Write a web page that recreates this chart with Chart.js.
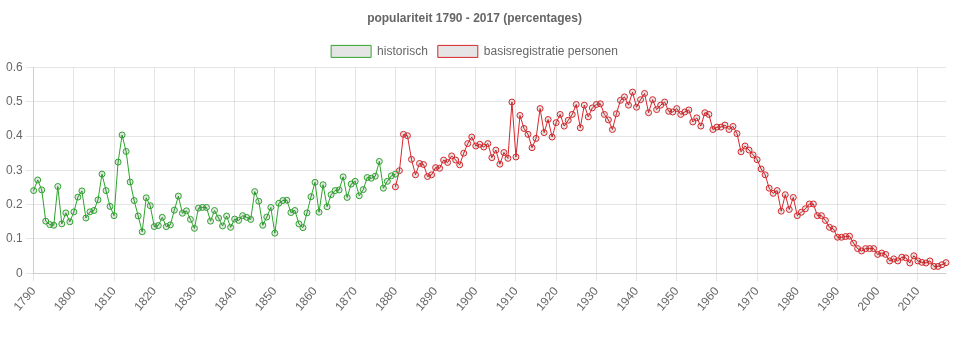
<!DOCTYPE html>
<html>
<head>
<meta charset="utf-8">
<script src="https://cdn.jsdelivr.net/npm/chart.js@4/dist/chart.umd.min.js"></script>
<style>
  body { margin: 0; background: #fff; }
  #wrap { width: 958px; height: 350px; }
</style>
</head>
<body>
<div id="wrap"><canvas id="popChart" width="958" height="350"></canvas></div>
<script>
// ===== DATA =====
const firstYear = 1790;
const lastYear = 2017;

// historisch, 1790 - 1880
const historisch = [
  0.241, 0.272, 0.243, 0.152, 0.142, 0.140, 0.253, 0.144, 0.176, 0.150,
  0.179, 0.222, 0.240, 0.161, 0.179, 0.183, 0.214, 0.289, 0.241, 0.195,
  0.168, 0.324, 0.403, 0.355, 0.266, 0.212, 0.167, 0.121, 0.220, 0.197,
  0.136, 0.139, 0.163, 0.136, 0.141, 0.184, 0.225, 0.175, 0.182, 0.157,
  0.131, 0.190, 0.192, 0.192, 0.152, 0.183, 0.161, 0.138, 0.167, 0.134,
  0.158, 0.154, 0.168, 0.163, 0.157, 0.238, 0.210, 0.140, 0.164, 0.192,
  0.117, 0.204, 0.212, 0.213, 0.177, 0.183, 0.144, 0.133, 0.176, 0.223,
  0.265, 0.178, 0.258, 0.194, 0.229, 0.241, 0.243, 0.281, 0.221, 0.260,
  0.268, 0.226, 0.244, 0.279, 0.277, 0.283, 0.326, 0.248, 0.268, 0.284,
  0.289
];
const historischStart = 1790;

// basisregistratie personen, 1880 - 2017
const brp = [
  0.252, 0.299, 0.405, 0.401, 0.332, 0.287, 0.320, 0.317, 0.282, 0.287,
  0.308, 0.306, 0.330, 0.323, 0.342, 0.330, 0.316, 0.350, 0.378, 0.397,
  0.371, 0.376, 0.368, 0.378, 0.337, 0.359, 0.318, 0.352, 0.335, 0.499,
  0.339, 0.460, 0.422, 0.405, 0.366, 0.393, 0.480, 0.410, 0.448, 0.397,
  0.439, 0.463, 0.429, 0.446, 0.463, 0.492, 0.424, 0.490, 0.456, 0.482,
  0.492, 0.494, 0.463, 0.447, 0.419, 0.465, 0.504, 0.514, 0.490, 0.528,
  0.484, 0.506, 0.524, 0.468, 0.506, 0.477, 0.490, 0.499, 0.472, 0.470,
  0.480, 0.463, 0.470, 0.476, 0.441, 0.453, 0.429, 0.468, 0.463, 0.419,
  0.426, 0.426, 0.432, 0.419, 0.428, 0.407, 0.354, 0.371, 0.359, 0.345,
  0.331, 0.304, 0.287, 0.248, 0.233, 0.241, 0.181, 0.229, 0.186, 0.221,
  0.168, 0.178, 0.188, 0.202, 0.202, 0.168, 0.168, 0.154, 0.134, 0.129,
  0.105, 0.105, 0.107, 0.108, 0.088, 0.072, 0.065, 0.072, 0.072, 0.072,
  0.055, 0.059, 0.055, 0.036, 0.042, 0.036, 0.047, 0.045, 0.030, 0.051,
  0.036, 0.032, 0.030, 0.036, 0.020, 0.020, 0.025, 0.031
];
const brpStart = 1880;

const yTicks = [0, 0.1, 0.2, 0.3, 0.4, 0.5, 0.6];

// ===== BUILD =====
const years = [];
for (let y = firstYear; y <= lastYear; y++) years.push(y);

function placeSeries(values, start) {
  return years.map(y => {
    const i = y - start;
    return (i >= 0 && i < values.length) ? values[i] : null;
  });
}

Chart.defaults.font.family = 'Arial, "Liberation Sans", Helvetica, sans-serif';
Chart.defaults.font.size = 12;
Chart.defaults.color = '#666';

const green = '#2ca52c';
const red = '#d8262b';

new Chart(document.getElementById('popChart'), {
  type: 'line',
  data: {
    labels: years,
    datasets: [{
      label: 'historisch',
      data: placeSeries(historisch, historischStart),
      borderColor: green,
      backgroundColor: 'rgba(0,0,0,0.1)',
      borderWidth: 1,
      pointRadius: 3,
      pointBorderWidth: 1,
      pointBorderColor: green,
      pointBackgroundColor: 'rgba(0,0,0,0.1)',
      tension: 0,
      fill: false
    }, {
      label: 'basisregistratie personen',
      data: placeSeries(brp, brpStart),
      borderColor: red,
      backgroundColor: 'rgba(0,0,0,0.1)',
      borderWidth: 1,
      pointRadius: 3,
      pointBorderWidth: 1,
      pointBorderColor: red,
      pointBackgroundColor: 'rgba(0,0,0,0.1)',
      tension: 0,
      fill: false
    }]
  },
  options: {
    responsive: false,
    animation: false,
    layout: { padding: { left: 3, right: 12, top: 1, bottom: 33 } },
    plugins: {
      title: {
        display: true,
        text: 'populariteit 1790 - 2017 (percentages)',
        font: { size: 12, weight: 'bold' },
        color: '#666',
        padding: { top: 10, bottom: 10 }
      },
      legend: {
        labels: { boxWidth: 40, boxHeight: 12, padding: 10, color: '#666' }
      },
      tooltip: { enabled: false }
    },
    scales: {
      x: {
        grid: { color: 'rgba(0,0,0,0.1)' },
        ticks: {
          autoSkip: false,
          minRotation: 50,
          maxRotation: 50,
          callback: function (val, idx) {
            const y = years[idx];
            return y % 10 === 0 ? String(y) : null;
          }
        }
      },
      y: {
        min: 0,
        max: 0.6,
        afterBuildTicks: axis => { axis.ticks = yTicks.map(v => ({ value: v })); },
        grid: { color: 'rgba(0,0,0,0.1)' },
        ticks: { callback: v => String(Math.round(v * 10) / 10) }
      }
    }
  }
});
</script>
</body>
</html>
